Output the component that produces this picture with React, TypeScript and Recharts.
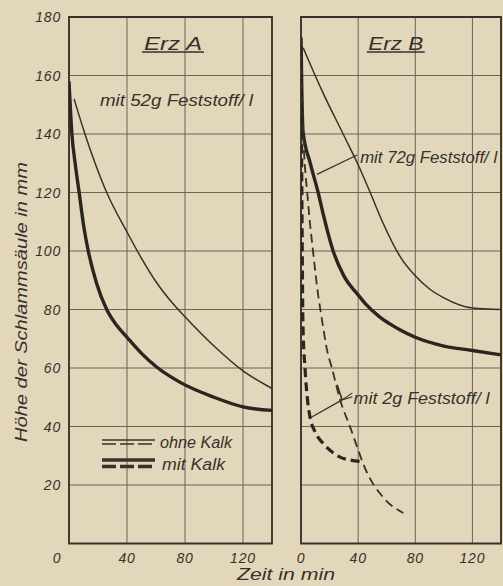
import React from 'react';
import {
  LineChart,
  Line,
  XAxis,
  YAxis,
  CartesianGrid,
  ReferenceArea,
  ReferenceLine,
  ReferenceDot,
  Legend,
} from 'recharts';

type Pt = [number, number];

// ---- axes ----
const xTicks = [0, 40, 80, 120];
const yTicks = [0, 20, 40, 60, 80, 100, 120, 140, 160, 180];
const xDomain: [number, number] = [0, 140];
const yDomain: [number, number] = [0, 180];

// ---- Erz A, 52 g Feststoff / l ----
const erzA_ohneKalk: Pt[] = [
  [3.5, 152], [11, 140], [18, 130], [26, 120], [40, 106.5], [50, 97.5], [60, 89.5],
  [70, 83], [80, 77.5], [100, 67.5], [120, 59], [140, 53],
];
const erzA_mitKalk: Pt[] = [
  [0, 158], [2, 140], [4.5, 129], [7, 120], [10, 109], [13.3, 100], [19, 89], [26, 80],
  [33, 74.5], [40, 70.5], [50, 65], [60, 60.5], [77, 55], [100, 50], [120, 46.7], [140, 45.5],
];

// ---- Erz B, 72 g Feststoff / l ----
const erzB_ohneKalk_72g: Pt[] = [
  [1.5, 169.5], [15, 154.5], [30, 139.5], [40, 129.5], [48, 120.5], [57, 110], [69.5, 98],
  [80, 91.5], [90, 87], [100, 84], [120, 80.5], [140, 80],
];
const erzB_mitKalk_72g: Pt[] = [
  [0, 173], [0.4, 160], [1.4, 141], [6.5, 130], [12, 120], [15.6, 112.5], [22.5, 100],
  [30, 91.5], [40, 85], [45, 82], [55, 77.5], [62.5, 75], [69.5, 73], [80, 70.5],
  [100, 67.5], [120, 66], [140, 64.5],
];

// ---- Erz B, 2 g Feststoff / l ----
const erzB_ohneKalk_2g: Pt[] = [
  [0, 168], [1.2, 145], [4.9, 117], [8.4, 100], [12, 85], [14.7, 76.4], [18.2, 66.2],
  [21.8, 59.7], [27.4, 49.1], [34.4, 39.8], [46.3, 24.1], [58, 15.5], [71.6, 10.4],
];
const erzB_mitKalk_2g: Pt[] = [
  [0, 170], [0.6, 120], [1.4, 74], [2.8, 60], [6, 44], [10, 38], [15.4, 34.3],
  [22, 31.2], [27, 29.6], [35, 28.5], [43, 28],
];

const toRows = (pts: Pt[]) => pts.map(([t, h]) => ({ t, h }));

// ---- style ----
const BG = '#e2d6bb';
const INK = '#37312a';
const GRID = '#6b6358';
const FONT = '"Liberation Sans", Arial, sans-serif';

const textStyle = {
  fontFamily: FONT,
  fontStyle: 'italic' as const,
  fill: INK,
};

const XTick = (shiftZero: boolean) => (props: any) => {
  const { x, y, payload } = props;
  const dx = shiftZero && payload.value === 0 ? -12 : 0;
  return (
    <text x={x + dx} y={y + 19} textAnchor="middle" fontSize={14} letterSpacing={0.8} {...textStyle}>
      {payload.value}
    </text>
  );
};

const YTick = (props: any) => {
  const { x, y, payload } = props;
  if (payload.value === 0) return <g />;
  return (
    <text x={x - 8} y={y + 5} textAnchor="end" fontSize={14} letterSpacing={0.8} {...textStyle}>
      {payload.value}
    </text>
  );
};

const TextMark =
  (
    text: string,
    opts: { anchor?: 'start' | 'middle' | 'end'; size?: number; length: number; underline?: number },
  ) =>
  (props: any) => {
    const { cx, cy } = props;
    const size = opts.size ?? 16;
    return (
      <g>
        <text
          x={cx}
          y={cy + size * 0.36}
          textAnchor={opts.anchor ?? 'start'}
          fontSize={size}
          textLength={opts.length}
          lengthAdjust="spacingAndGlyphs"
          {...textStyle}
        >
          {text}
        </text>
        {opts.underline ? (
          <line
            x1={cx - opts.underline / 2}
            x2={cx + opts.underline / 2}
            y1={cy + 9}
            y2={cy + 9}
            stroke={INK}
            strokeWidth={1.6}
          />
        ) : null}
      </g>
    );
  };

const LegendBox = () => (
  <svg width={140} height={44} style={{ display: 'block' }}>
    <line x1={0} x2={53} y1={6} y2={6} stroke={INK} strokeWidth={1.4} />
    <line x1={0} x2={53} y1={10} y2={10} stroke={INK} strokeWidth={1.4} strokeDasharray="14 4" />
    <text x={58} y={14} fontSize={16} textLength={72} lengthAdjust="spacingAndGlyphs" {...textStyle}>
      ohne Kalk
    </text>
    <line x1={0} x2={53} y1={26} y2={26} stroke={INK} strokeWidth={3.5} />
    <line x1={0} x2={53} y1={32.5} y2={32.5} stroke={INK} strokeWidth={3.5} strokeDasharray="14 4" />
    <text x={60} y={36} fontSize={16} textLength={63} lengthAdjust="spacingAndGlyphs" {...textStyle}>
      mit  Kalk
    </text>
  </svg>
);

const thin = { stroke: INK, strokeWidth: 1.5, fill: 'none' };
const thick = { stroke: '#2b251f', strokeWidth: 3.4, fill: 'none' };

export default function App() {
  return (
    <div
      style={{
        position: 'absolute',
        left: 0,
        top: 0,
        width: 503,
        height: 586,
        background: BG,
        overflow: 'hidden',
      }}
    >
      {/* Erz A */}
      <div style={{ position: 'absolute', left: 0, top: 0 }}>
        <LineChart width={280} height={586} margin={{ top: 17, right: 8, bottom: 12.5, left: 19 }}>
          <CartesianGrid stroke={GRID} strokeWidth={1} />
          <XAxis
            type="number"
            dataKey="t"
            domain={xDomain}
            ticks={xTicks}
            allowDataOverflow
            axisLine={false}
            tickLine={false}
            tickSize={0}
            tickMargin={0}
            height={30}
            tick={XTick(true)}
          />
          <YAxis
            type="number"
            domain={yDomain}
            ticks={yTicks}
            allowDataOverflow
            axisLine={false}
            tickLine={false}
            tickSize={0}
            tickMargin={0}
            width={50}
            tick={YTick}
            label={{
              content: () => (
                <text
                  transform="translate(27 302) rotate(-90)"
                  textAnchor="middle"
                  fontSize={17}
                  textLength={280}
                  lengthAdjust="spacingAndGlyphs"
                  {...textStyle}
                >
                  Höhe der Schlammsäule in mm
                </text>
              ),
            }}
          />
          <ReferenceArea x1={0} x2={140} y1={0} y2={180} fill="none" stroke={INK} strokeWidth={1.8} ifOverflow="visible" />
          <Line data={toRows(erzA_ohneKalk)} dataKey="h" type="monotone" dot={false} isAnimationActive={false} {...thin} />
          <Line data={toRows(erzA_mitKalk)} dataKey="h" type="monotone" dot={false} isAnimationActive={false} {...thick} />
          <ReferenceDot x={71.7} y={171.1} r={0} ifOverflow="visible" shape={TextMark('Erz  A', { anchor: 'middle', size: 18, length: 58, underline: 62 })} />
          <ReferenceDot x={21.4} y={151.6} r={0} ifOverflow="visible" shape={TextMark('mit 52g Feststoff/ l', { size: 16, length: 153 })} />
          <Legend
            layout="vertical"
            align="center"
            verticalAlign="middle"
            wrapperStyle={{ left: 102, top: 434, width: 140 }}
            content={() => <LegendBox />}
          />
        </LineChart>
      </div>

      {/* Erz B */}
      <div style={{ position: 'absolute', left: 280, top: 0 }}>
        <LineChart width={223} height={586} margin={{ top: 17, right: 2, bottom: 12.5, left: 21 }}>
          <CartesianGrid stroke={GRID} strokeWidth={1} />
          <XAxis
            type="number"
            dataKey="t"
            domain={xDomain}
            ticks={xTicks}
            allowDataOverflow
            axisLine={false}
            tickLine={false}
            tickSize={0}
            tickMargin={0}
            height={30}
            tick={XTick(false)}
          />
          <YAxis type="number" domain={yDomain} ticks={yTicks} allowDataOverflow hide />
          <ReferenceArea x1={0} x2={140} y1={0} y2={180} fill="none" stroke={INK} strokeWidth={1.8} ifOverflow="visible" />
          <Line data={toRows(erzB_ohneKalk_72g)} dataKey="h" type="monotone" dot={false} isAnimationActive={false} {...thin} />
          <Line data={toRows(erzB_mitKalk_72g)} dataKey="h" type="monotone" dot={false} isAnimationActive={false} {...thick} />
          <Line data={toRows(erzB_ohneKalk_2g)} dataKey="h" type="monotone" dot={false} isAnimationActive={false} {...thin} strokeWidth={1.8} strokeDasharray="9 5" />
          <Line data={toRows(erzB_mitKalk_2g)} dataKey="h" type="monotone" dot={false} isAnimationActive={false} {...thick} strokeWidth={3.2} strokeDasharray="9 5" />
          <ReferenceLine segment={[{ x: 39.3, y: 132.8 }, { x: 11.2, y: 126.2 }]} stroke={INK} strokeWidth={1.2} />
          <ReferenceLine segment={[{ x: 25.3, y: 54.3 }, { x: 28.8, y: 49.1 }]} stroke={INK} strokeWidth={1.6} />
          <ReferenceLine segment={[{ x: 28.8, y: 49.1 }, { x: 36, y: 51.5 }]} stroke={INK} strokeWidth={1.1} />
          <ReferenceLine segment={[{ x: 28.8, y: 49.1 }, { x: 36, y: 50.2 }]} stroke={INK} strokeWidth={1.1} />
          <ReferenceLine segment={[{ x: 28.8, y: 49.1 }, { x: 6.3, y: 42.9 }]} stroke={INK} strokeWidth={1.2} />
          <ReferenceDot x={66.3} y={171.1} r={0} ifOverflow="visible" shape={TextMark('Erz  B', { anchor: 'middle', size: 18, length: 55, underline: 58 })} />
          <ReferenceDot x={41.4} y={132.1} r={0} ifOverflow="visible" shape={TextMark('mit 72g Feststoff/ l', { size: 16, length: 137 })} />
          <ReferenceDot x={36.8} y={49.7} r={0} ifOverflow="visible" shape={TextMark('mit 2g Feststoff/ l', { size: 16, length: 136 })} />
        </LineChart>
      </div>

      <svg width={503} height={586} style={{ position: 'absolute', left: 0, top: 0, pointerEvents: 'none' }}>
        <text
          x={286}
          y={580}
          textAnchor="middle"
          fontSize={16}
          textLength={98}
          lengthAdjust="spacingAndGlyphs"
          {...textStyle}
        >
          Zeit  in  min
        </text>
      </svg>
    </div>
  );
}
